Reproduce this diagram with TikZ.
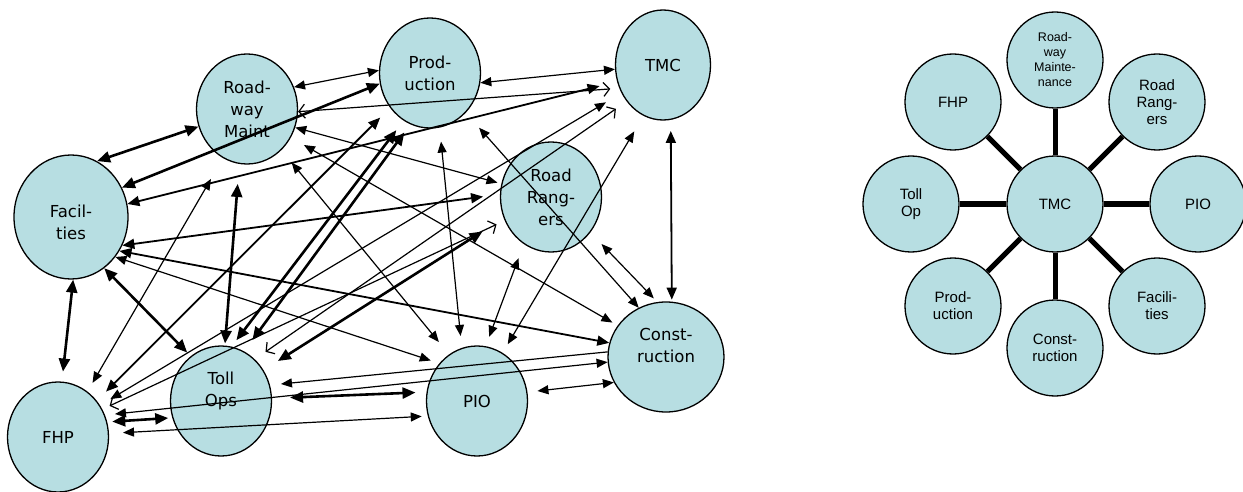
\documentclass[tikz,border=0pt]{standalone}
\usepackage{fontspec}
\setmainfont{DejaVu Sans}
\newfontfamily\arialfont{Liberation Sans}
\usetikzlibrary{arrows.meta, shapes.geometric}
\definecolor{bubble}{RGB}{183,222,226}
\newcommand{\lifted}[2]{\raisebox{#1}[0pt][0pt]{\begin{tabular}{@{}c@{}}#2\end{tabular}}}

\begin{document}
\begin{tikzpicture}[x=1pt, y=-1pt,
		agent/.style={ellipse, draw, line width=1.3pt, fill=bubble, inner sep=0pt, minimum width=101pt, minimum height=110pt, align=center, font=\fontsize{16.5}{22}\selectfont},
		hub/.style={circle, draw, line width=1.3pt, fill=bubble, inner sep=0pt, minimum size=96pt, align=center, font=\arialfont\fontsize{15}{17}\selectfont},
		link/.style={line width=1.2pt, {Triangle[length=11pt,width=9pt]}-{Triangle[length=11pt,width=9pt]}},
		onelink/.style={line width=1.2pt, -{Triangle[length=11pt,width=9pt]}},
		mlink/.style={line width=1.8pt, {Triangle[length=12pt,width=10pt]}-{Triangle[length=12pt,width=10pt]}},
		tlink/.style={line width=2.6pt, {Triangle[length=13pt,width=11pt]}-{Triangle[length=13pt,width=11pt]}},
		olink/.style={line width=1.2pt, {Straight Barb[length=6pt,width=14pt]}-{Straight Barb[length=6pt,width=14pt]}},
		spoke/.style={line width=5pt}
		]
		\useasboundingbox (0,0) rectangle (1243,492);
		
		% every unit talking to every other unit
		\node [agent, minimum width=114pt, minimum height=124pt] (fac) at (71,217) {\lifted{-11pt}{Facil-\\ties}};
		\node [agent] (rm) at (247,109) {Road-\\way\\Maint};
		\node [agent] (prod) at (430,73) {Prod-\\uction};
		\node [agent, minimum width=95pt] (tmc) at (663,65) {TMC};
		\node [agent] (rr) at (551,197) {Road\\Rang-\\ers};
		\node [agent] (fhp) at (58,437) {FHP};
		\node [agent] (toll) at (221,401) {\lifted{6pt}{Toll\\Ops}};
		\node [agent] (pio) at (477,401) {PIO};
		\node [agent, minimum width=116pt] (con) at (666,357) {\lifted{6pt}{Const-\\ruction}};
		
		\draw [link] (rm.25) -- (prod.177);
		\draw [tlink] (fac.65) -- (rm.200);
		\draw [tlink] (fac.30) -- (prod.192);
		\draw [link] (prod.349) -- (tmc.185);
		\draw [olink, shorten >=9pt] (rm.357) -- (tmc.208);
		\draw [mlink, shorten >=18pt] (fac.13) -- (tmc.200);
		\draw [mlink, shorten >=17pt] (fac.331) -- (rr.177);
		\draw [link, shorten >=4pt] (rm.339) -- (rr.165);
		\draw [link, shorten <=15pt, shorten >=6pt] (rm.327) -- (con.147);
		\draw [link, shorten <=16pt, shorten >=16pt] (rm.310) -- (pio.121);
		\draw [tlink, shorten <=2pt, shorten >=20pt] (toll.86) -- (rm.262);
		\draw [tlink, shorten <=8pt, shorten >=12pt] (toll.79) -- (prod.241);
		\draw [tlink, shorten <=14pt, shorten >=10pt] (toll.65) -- (prod.249);
		\draw [mlink, shorten <=13pt, shorten >=14pt] (fhp.43) -- (prod.221);
		\draw [link, shorten <=14pt, shorten >=12pt] (prod.280) -- (pio.106);
		\draw [link, shorten <=20pt] (prod.312) -- (con.119);
		\draw [mlink, shorten <=11pt, shorten >=2pt] (tmc.278) -- (con.84);
		\draw [link, shorten <=10pt, shorten >=18pt] (pio.62) -- (tmc.249);
		\draw [tlink, shorten <=17pt, shorten >=25pt] (toll.36) -- (rr.204);
		\draw [olink, shorten <=8pt, shorten >=9pt] (fhp.32) -- (rr.207);
		\draw [link, shorten <=10pt, shorten >=15pt] (pio.81) -- (rr.240);
		\draw [link, shorten <=16pt, shorten >=5pt] (rr.318) -- (con.99);
		\draw [mlink] (fac.325) -- (con.166);
		\draw [onelink, shorten >=11pt] (con.175) -- (toll.18);
		\draw [link, shorten <=10pt] (fhp.25) -- (con.185);
		\draw [link, shorten <=10pt] (pio.10) -- (con.206);
		\draw [link, shorten >=9pt] (fac.318) -- (pio.135);
		\draw [tlink, shorten <=18pt, shorten >=11pt] (toll.3) -- (pio.170);
		\draw [link, shorten <=14pt, shorten >=6pt] (fhp.4) -- (pio.197);
		\draw [tlink, shorten <=5pt, shorten >=4pt] (fhp.17) -- (toll.199);
		\draw [tlink, shorten >=5pt] (fac.303) -- (toll.124);
		\draw [tlink, shorten >=10pt] (fac.272) -- (fhp.86);
		\draw [link, shorten <=10pt, shorten >=24pt] (fhp.57) -- (rm.244);
		\draw [link, shorten <=12pt, shorten >=18pt] (fhp.37) -- (tmc.214);
		\draw [olink, shorten <=13pt, shorten >=13pt] (toll.51) -- (tmc.225);
		
		% everything through the TMC
		\node [hub] (tmcR) at (1055,204) {TMC};
		\node [hub, font=\arialfont\fontsize{12.5}{15}\selectfont] (rmR) at (1055,60) {Road-\\way\\Mainte-\\nance};
		\node [hub] (rrR) at (1157,102) {Road\\Rang-\\ers};
		\node [hub] (pioR) at (1198,204) {PIO};
		\node [hub] (facR) at (1157,306) {Facili-\\ties};
		\node [hub] (conR) at (1055,348) {Const-\\ruction};
		\node [hub] (prodR) at (953,306) {Prod-\\uction};
		\node [hub] (tollR) at (911,204) {Toll\\Op};
		\node [hub] (fhpR) at (953,102) {FHP};
		\foreach \s in {rmR, rrR, pioR, facR, conR, prodR, tollR, fhpR}
			\draw [spoke] (tmcR) -- (\s);
	\end{tikzpicture}
\end{document}
